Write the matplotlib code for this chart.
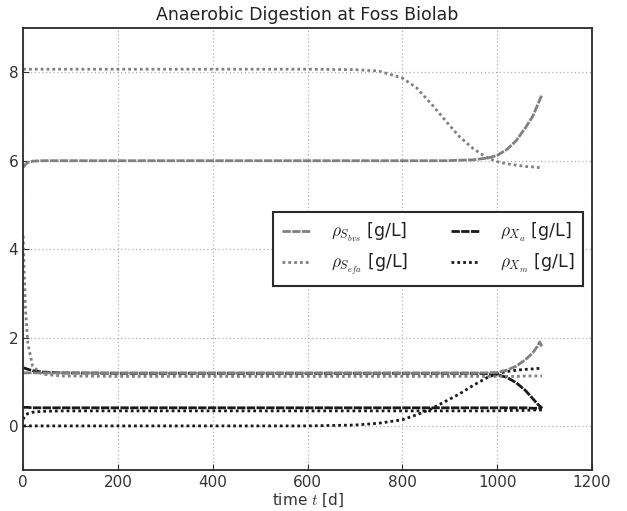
import matplotlib
matplotlib.use("Agg")
import matplotlib.pyplot as plt

plt.rcParams['mathtext.fontset'] = 'cm'

# time grid of the simulation output [d]
t = [0, 2, 5, 10, 20, 40, 80, 200, 400, 600, 700, 750, 800, 830, 860,
     890, 920, 950, 980, 1000, 1020, 1040, 1060, 1075, 1085, 1090, 1095]

# stage 1 concentrations [g/L]
s_bvs_1 = [5.85, 5.88, 5.92, 5.96, 5.99, 6.0, 6.0, 6.0, 6.0, 6.0, 6.0, 6.0, 6.0, 6.0, 6.0,
           6.0, 6.01, 6.02, 6.06, 6.12, 6.25, 6.45, 6.75, 7.0, 7.25, 7.38, 7.5]
s_efa_1 = [8.07, 8.07, 8.07, 8.07, 8.07, 8.07, 8.07, 8.07, 8.07, 8.07, 8.06, 8.03, 7.87, 7.65, 7.3,
           6.92, 6.55, 6.27, 6.06, 5.98, 5.93, 5.9, 5.87, 5.86, 5.85, 5.84, 5.84]
x_a_1 = [1.32, 1.31, 1.3, 1.28, 1.25, 1.22, 1.2, 1.19, 1.19, 1.19, 1.19, 1.19, 1.19, 1.19, 1.19,
         1.19, 1.19, 1.19, 1.18, 1.16, 1.1, 0.98, 0.8, 0.62, 0.5, 0.45, 0.4]
x_m_1 = [0.0, 0.0, 0.0, 0.0, 0.0, 0.0, 0.0, 0.0, 0.0, 0.0, 0.02, 0.06, 0.14, 0.25, 0.38,
         0.55, 0.72, 0.92, 1.1, 1.18, 1.23, 1.26, 1.28, 1.29, 1.3, 1.3, 1.3]

# stage 2 concentrations [g/L]
s_bvs_2 = [1.2, 1.2, 1.2, 1.2, 1.2, 1.2, 1.2, 1.2, 1.2, 1.2, 1.2, 1.2, 1.2, 1.2, 1.2,
           1.2, 1.2, 1.2, 1.2, 1.21, 1.26, 1.35, 1.5, 1.65, 1.8, 1.9, 1.78]
s_efa_2 = [4.3, 3.5, 2.6, 1.85, 1.35, 1.17, 1.13, 1.12, 1.12, 1.12, 1.12, 1.12, 1.12, 1.12, 1.12,
           1.12, 1.12, 1.12, 1.12, 1.12, 1.12, 1.12, 1.13, 1.13, 1.13, 1.13, 1.13]
x_a_2 = [0.42, 0.42, 0.42, 0.42, 0.41, 0.41, 0.41, 0.41, 0.41, 0.41, 0.41, 0.41, 0.41, 0.41, 0.41,
         0.41, 0.41, 0.41, 0.41, 0.41, 0.41, 0.41, 0.41, 0.4, 0.4, 0.4, 0.39]
x_m_2 = [0.15, 0.2, 0.25, 0.28, 0.31, 0.33, 0.34, 0.34, 0.34, 0.34, 0.34, 0.34, 0.34, 0.34, 0.34,
         0.34, 0.34, 0.34, 0.34, 0.34, 0.35, 0.35, 0.35, 0.36, 0.36, 0.36, 0.36]

gray = '#808080'
black = '#1a1a1a'
dash = (0, (3.0, 0.5))
dot = (0, (1, 1.1))

fig = plt.figure(figsize=(6.27, 5.11), dpi=100)
ax = fig.add_axes([0.037, 0.080, 0.907, 0.865])

ax.plot(t, s_bvs_1, color=gray, ls=dash, lw=2, label=r'$\rho_{S_{bvs}}$ [g/L]')
ax.plot(t, s_efa_1, color=gray, ls=dot, lw=2, label=r'$\rho_{S_{efa}}$ [g/L]')
ax.plot(t, x_a_1, color=black, ls=dash, lw=2, label=r'$\rho_{X_a}$ [g/L]')
ax.plot(t, x_m_1, color=black, ls=dot, lw=2, label=r'$\rho_{X_m}$ [g/L]')

ax.plot(t, s_bvs_2, color=gray, ls=dash, lw=2)
ax.plot(t, s_efa_2, color=gray, ls=dot, lw=2)
ax.plot(t, x_a_2, color=black, ls=dash, lw=2)
ax.plot(t, x_m_2, color=black, ls=dot, lw=2)

ax.set_xlim(0, 1200)
ax.set_ylim(-1, 9)
ax.set_xticks(range(0, 1201, 200))
ax.set_yticks([0, 2, 4, 6, 8])
ax.tick_params(direction='in', labelsize=11, colors='#333333', length=4)
ax.grid(True, color='#b0b0b0', ls=(0, (1, 2)), lw=0.9)
for sp in ax.spines.values():
    sp.set_color('#2a2a2a')
    sp.set_linewidth(1.3)

ax.set_title('Anaerobic Digestion at Foss Biolab', fontsize=12.5, color='#222222')
ax.set_xlabel('time $t$ [d]', fontsize=11, color='#333333', labelpad=1)

leg = ax.legend(loc='center right', bbox_to_anchor=(1.0, 0.5), ncol=2, fontsize=12.5,
                handlelength=1.6, handletextpad=1.2, columnspacing=2.5, fancybox=False,
                framealpha=1, borderpad=0.5, labelspacing=0.5)
leg.get_frame().set_edgecolor('#2a2a2a')
leg.get_frame().set_linewidth(1.5)
for txt in leg.get_texts():
    txt.set_color('#222222')

fig.savefig('out.png', dpi=100)
